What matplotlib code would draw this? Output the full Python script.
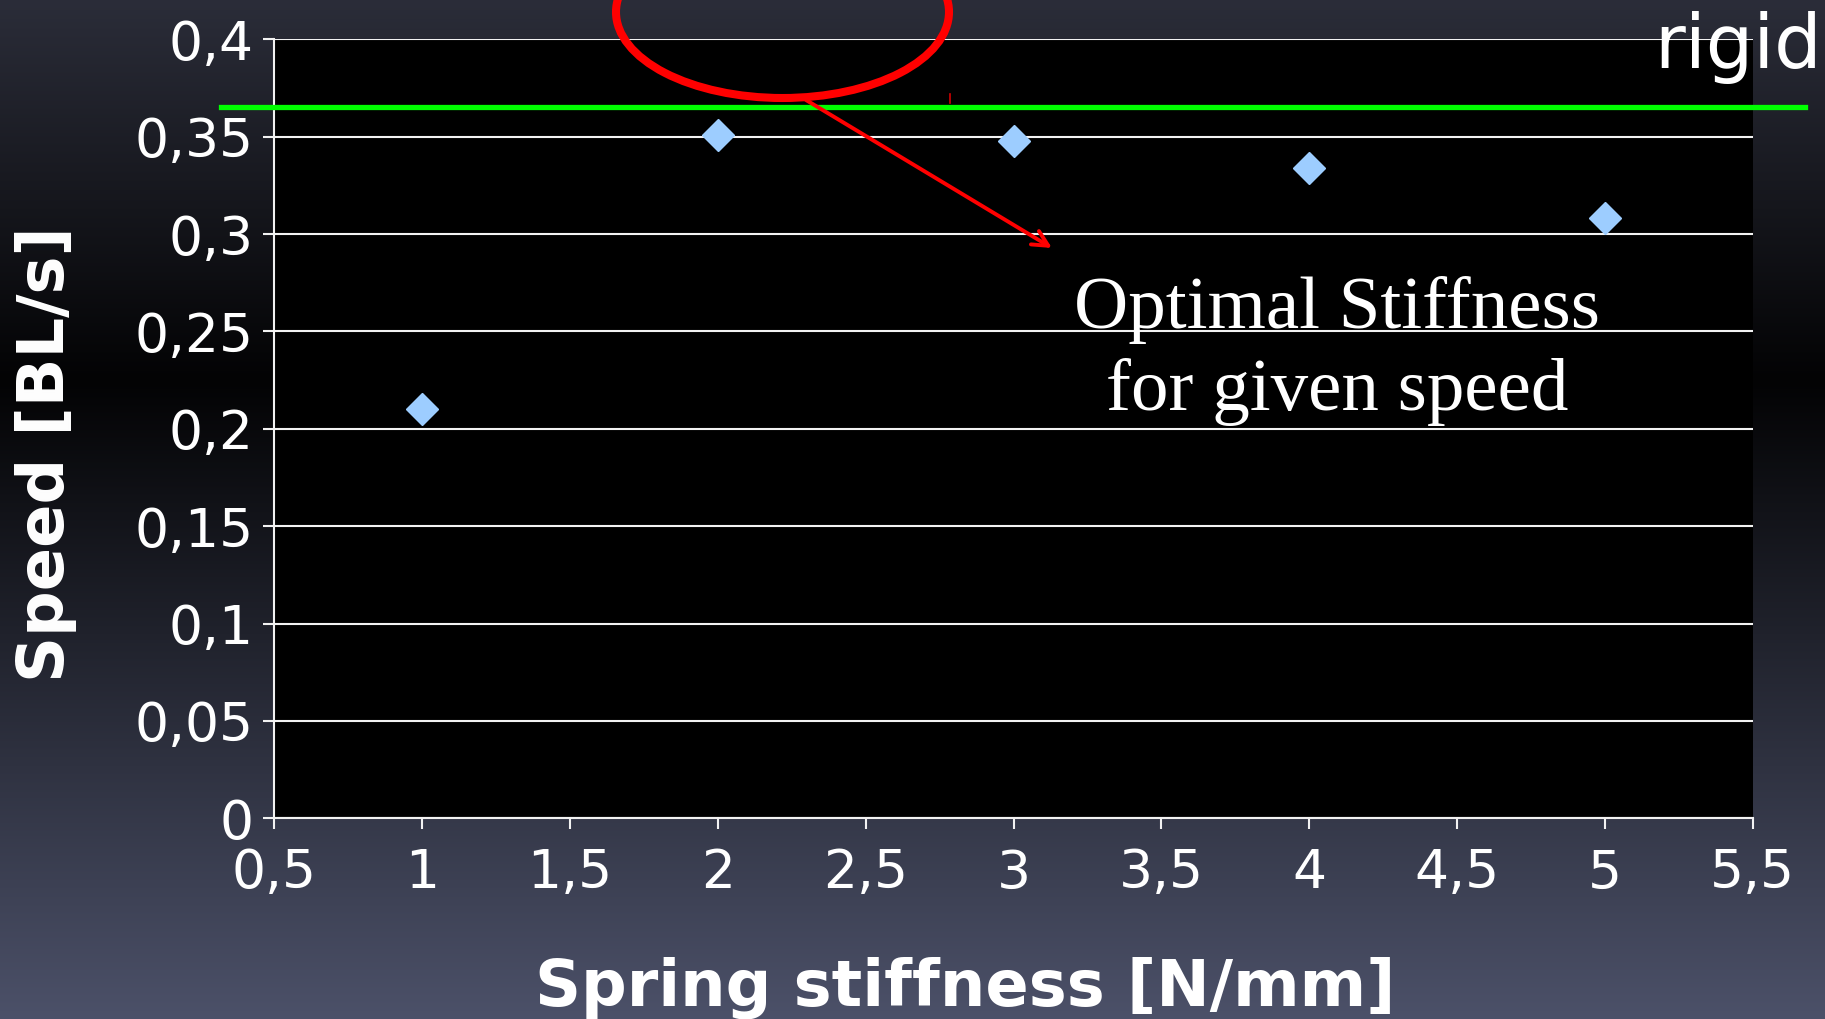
import numpy as np
import matplotlib.pyplot as plt
from matplotlib.patches import Ellipse
from matplotlib.lines import Line2D
from matplotlib.ticker import FuncFormatter, MultipleLocator

# data
stiffness = [1, 2, 3, 4, 5]               # N/mm
speed = [0.210, 0.351, 0.348, 0.334, 0.308]  # BL/s
rigid_speed = 0.365
xlabel = 'Spring stiffness [N/mm]'
ylabel = 'Speed [BL/s]'
note = 'Optimal Stiffness\nfor given speed'

W, H = 1825, 1019
fig = plt.figure(figsize=(W / 100, H / 100), dpi=100)

# slide background: dark top, black band, lighter blue-grey bottom
stops = [0, 380, H]
cols = np.array([[43, 45, 57], [3, 3, 4], [76, 81, 105]]) / 255.0
rows = np.arange(H)
grad = np.stack([np.interp(rows, stops, cols[:, k]) for k in range(3)], axis=1)
grad = np.repeat(grad[:, None, :], 4, axis=1)
bg = fig.add_axes([0, 0, 1, 1], zorder=0)
bg.imshow(grad, aspect='auto', extent=[0, 1, 0, 1], interpolation='bilinear')
bg.axis('off')

ax = fig.add_axes([274.3 / W, 1 - 818.3 / H, 1478.4 / W, 779 / H], zorder=1)
ax.set_facecolor('black')
ax.plot(stiffness, speed, linestyle='none', marker='D', markersize=16.5,
        color='#9dcdff', markeredgecolor='#9dcdff', zorder=4)
ax.axhline(rigid_speed, xmin=-0.036, xmax=1.0354, color='#00ff00', lw=3.8,
           clip_on=False, zorder=5)

ax.set_xlim(0.5, 5.5)
ax.set_ylim(0, 0.4)
ax.xaxis.set_major_locator(MultipleLocator(0.5))
ax.yaxis.set_major_locator(MultipleLocator(0.05))
fmt = FuncFormatter(lambda v, p: ('%g' % round(v, 2)).replace('.', ','))
ax.xaxis.set_major_formatter(fmt)
ax.yaxis.set_major_formatter(fmt)
ax.grid(axis='y', color='#f2f2f2', lw=1.5)
ax.set_axisbelow(True)
for s in ['top', 'right']:
    ax.spines[s].set_visible(False)
for s in ['left', 'bottom']:
    ax.spines[s].set_color('#f2f2f2')
    ax.spines[s].set_linewidth(1.5)
ax.tick_params(axis='x', direction='out', length=8, width=1.5, color='#f2f2f2',
               labelcolor='white', labelsize=38.5, pad=13)
ax.tick_params(axis='y', direction='out', length=8, width=1.5, color='#f2f2f2',
               labelcolor='white', labelsize=38.5, pad=7)

ax.set_xlabel(xlabel, fontsize=46, fontweight='bold', color='white', va='baseline')
ax.xaxis.set_label_coords(0.4672, -0.2397)
ax.set_ylabel(ylabel, fontsize=46, fontweight='bold', color='white')
ax.yaxis.set_label_coords(-0.1336, 0.468)

# annotations
fig.text(0.9985, 1 - 68.3 / H, 'rigid', ha='right', va='baseline', fontsize=54,
         color='white', zorder=6)
fig.text(1337 / W, 1 - 351 / H, note, ha='center', va='center', fontsize=54,
         family='Liberation Serif', color='white', linespacing=1.26, zorder=6)
fig.add_artist(Ellipse((782.5 / W, 1 - 12 / H), 333 / W, 172 / H, fill=False,
                       edgecolor='#ff0000', lw=5.8, transform=fig.transFigure, zorder=6))
fig.add_artist(Line2D([950 / W, 950 / W], [1 - 94 / H, 1 - 103 / H], color='#d00000',
                      lw=1.2, transform=fig.transFigure, zorder=6))
ax.annotate('', xy=(1052, H - 248), xytext=(806, H - 100), xycoords='figure pixels',
            textcoords='figure pixels',
            arrowprops=dict(arrowstyle='->', color='#ff0000', lw=2.8,
                            mutation_scale=28, shrinkA=0, shrinkB=0), zorder=6)

fig.savefig('out.png', dpi=100)
